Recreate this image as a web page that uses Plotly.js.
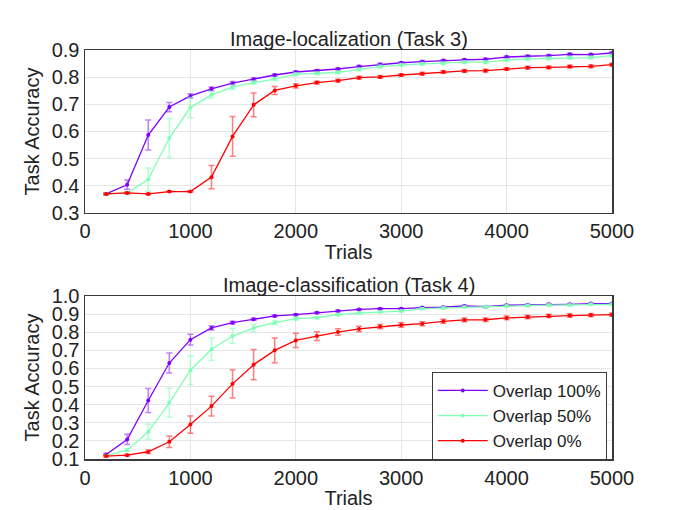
<!DOCTYPE html>
<html><head><meta charset="utf-8">
<script src="https://cdn.plot.ly/plotly-3.0.1.min.js"></script>
<style>html,body{margin:0;padding:0;background:#fff;}</style>
</head><body><div id="chart" style="width:681px;height:510px;"></div>
<script>
const trials = [200,400,600,800,1000,1200,1400,1600,1800,2000,2200,2400,2600,2800,3000,3200,3400,3600,3800,4000,4200,4400,4600,4800,5000];

// Task 3 (Image-localization)
const t3_100 = [0.370,0.404,0.587,0.690,0.731,0.757,0.778,0.792,0.808,0.819,0.824,0.830,0.839,0.847,0.853,0.857,0.861,0.864,0.866,0.874,0.877,0.879,0.884,0.883,0.889];
const t3_100_err = [0.003,0.017,0.055,0.017,0.008,0.007,0.006,0.005,0.004,0.004,0.004,0.004,0.004,0.004,0.004,0.004,0.004,0.004,0.004,0.004,0.004,0.004,0.004,0.004,0.004];
const t3_50 = [0.370,0.374,0.423,0.576,0.688,0.735,0.763,0.780,0.793,0.811,0.814,0.818,0.829,0.839,0.845,0.849,0.851,0.855,0.855,0.863,0.867,0.869,0.872,0.872,0.879];
const t3_50_err = [0.003,0.004,0.043,0.072,0.037,0.012,0.008,0.006,0.005,0.005,0.005,0.005,0.005,0.005,0.005,0.005,0.005,0.005,0.005,0.005,0.005,0.005,0.005,0.005,0.005];
const t3_0 = [0.370,0.374,0.370,0.379,0.379,0.432,0.582,0.698,0.751,0.768,0.780,0.787,0.798,0.801,0.808,0.813,0.819,0.823,0.824,0.830,0.835,0.836,0.839,0.840,0.846];
const t3_0_err = [0.003,0.003,0.003,0.003,0.003,0.043,0.073,0.044,0.015,0.008,0.005,0.005,0.005,0.005,0.005,0.005,0.005,0.005,0.005,0.005,0.005,0.005,0.005,0.005,0.005];

// Task 4 (Image-classification)
const t4_100 = [0.125,0.208,0.423,0.630,0.759,0.824,0.853,0.871,0.890,0.897,0.908,0.917,0.926,0.930,0.930,0.936,0.938,0.945,0.941,0.949,0.950,0.954,0.954,0.958,0.958];
const t4_100_err = [0.005,0.028,0.066,0.055,0.030,0.012,0.008,0.006,0.005,0.005,0.004,0.004,0.004,0.004,0.004,0.004,0.004,0.004,0.004,0.004,0.004,0.004,0.004,0.004,0.004];
const t4_50 = [0.118,0.149,0.250,0.410,0.590,0.706,0.779,0.824,0.853,0.875,0.880,0.897,0.906,0.912,0.917,0.930,0.934,0.939,0.941,0.945,0.947,0.950,0.950,0.954,0.954];
const t4_50_err = [0.005,0.008,0.043,0.080,0.079,0.062,0.041,0.020,0.012,0.008,0.006,0.006,0.005,0.005,0.005,0.005,0.005,0.005,0.005,0.005,0.005,0.005,0.005,0.005,0.005];
const t4_0 = [0.116,0.121,0.140,0.195,0.290,0.392,0.515,0.621,0.700,0.755,0.779,0.801,0.818,0.831,0.840,0.847,0.860,0.868,0.869,0.879,0.884,0.890,0.892,0.895,0.897];
const t4_0_err = [0.005,0.005,0.010,0.032,0.048,0.055,0.078,0.084,0.068,0.040,0.024,0.018,0.015,0.012,0.012,0.011,0.011,0.010,0.010,0.010,0.010,0.009,0.009,0.009,0.009];

const seriesNames = ['Overlap 100%','Overlap 50%','Overlap 0%'];
const lineColors = ['#7f00ff','#80ffb4','#ff0000'];
const errColors = ['rgba(127,0,255,0.5)','rgba(128,255,180,0.6)','rgba(255,0,0,0.5)'];

function mk(y, err, i, ax, showLegend){
  return {
    x: trials, y: y, type:'scatter', mode:'lines+markers',
    name: seriesNames[i], showlegend: showLegend, legendgroup: 'g'+i,
    xaxis: 'x'+(ax===1?'':ax), yaxis: 'y'+(ax===1?'':ax),
    line:{color:lineColors[i], width:1.3},
    marker:{color:lineColors[i], size:4},
    error_y:{type:'data', array: err, visible:true, color: errColors[i], thickness:1.5, width:3}
  };
}

const data = [
  mk(t3_100,t3_100_err,0,1,false), mk(t3_50,t3_50_err,1,1,false), mk(t3_0,t3_0_err,2,1,false),
  mk(t4_100,t4_100_err,0,2,true), mk(t4_50,t4_50_err,1,2,true), mk(t4_0,t4_0_err,2,2,true)
];

const fontFam = 'Liberation Sans, Arial, sans-serif';
const axX = (anchor) => ({
  anchor: anchor, range:[0,5000], dtick:1000, tick0:0, showgrid:true, gridcolor:'#e6e6e6', gridwidth:1,
  zeroline:false, showline:true, mirror:true, linecolor:'#3a3a3a', linewidth:1.5, ticks:'',
  tickfont:{size:20, color:'#222', family:fontFam},
  title:{text:'Trials', font:{size:20, color:'#222', family:fontFam}, standoff:3}
});
const axY = (anchor, domain, range, dt) => ({
  anchor: anchor, domain: domain, range: range, dtick: dt, tick0: 0, tickformat:'.1f',
  showgrid:true, gridcolor:'#e6e6e6', gridwidth:1, zeroline:false,
  showline:true, mirror:true, linecolor:'#3a3a3a', linewidth:1.5, ticks:'',
  tickfont:{size:20, color:'#222', family:fontFam},
  title:{text:'Task Accuracy', font:{size:20, color:'#222', family:fontFam}, standoff:6}
});

const layout = {
  width:681, height:510,
  margin:{l:85, r:69, t:50, b:51},
  paper_bgcolor:'#fff', plot_bgcolor:'#fff',
  font:{family:fontFam, color:'#222'},
  xaxis: axX('y'),
  yaxis: axY('x',[0.6015,1],[0.3,0.9],0.1),
  xaxis2: axX('y2'),
  yaxis2: axY('x2',[0,0.3985],[0.1,1.0],0.1),
  showlegend:true,
  legend:{x:0.658, y:0.213, xanchor:'left', yanchor:'top', bgcolor:'#fff', bordercolor:'#3a3a3a', borderwidth:1,
    font:{size:17, color:'#222', family:fontFam}, itemwidth:50, tracegroupgap:0},
  annotations:[
    {text:'Image-localization (Task 3)', xref:'paper', yref:'paper', x:0.5, y:1, xanchor:'center', yanchor:'bottom', yshift:-2, showarrow:false, font:{size:20, color:'#222', family:fontFam}},
    {text:'Image-classification (Task 4)', xref:'paper', yref:'paper', x:0.5, y:0.3985, xanchor:'center', yanchor:'bottom', yshift:-2, showarrow:false, font:{size:20, color:'#222', family:fontFam}}
  ]
};

Plotly.newPlot('chart', data, layout, {displayModeBar:false, staticPlot:true});
</script></body></html>
